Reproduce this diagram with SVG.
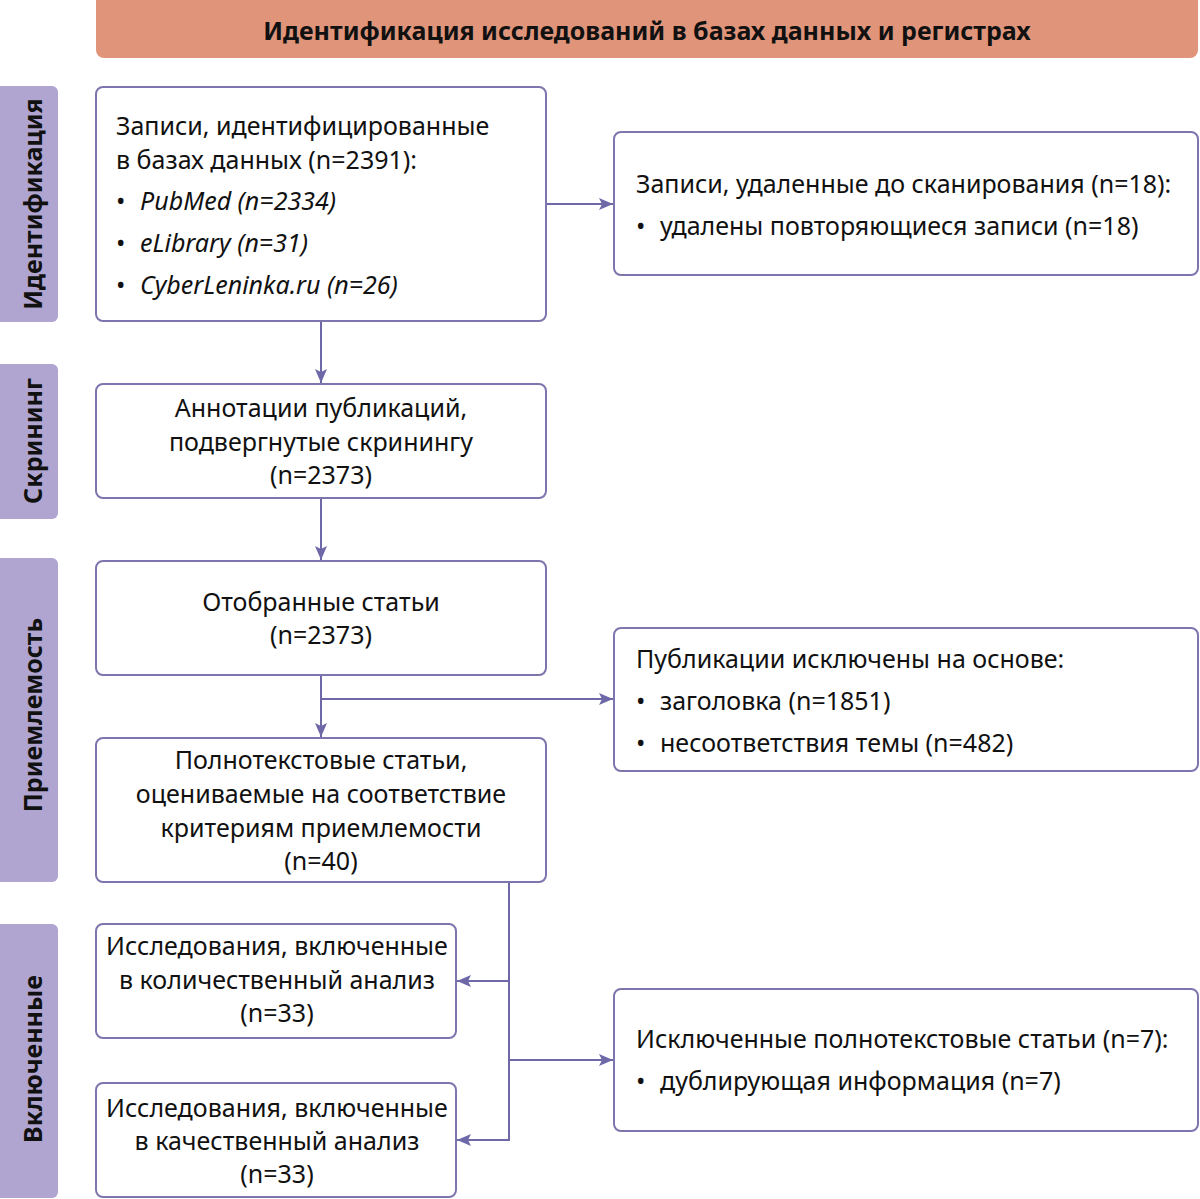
<svg xmlns="http://www.w3.org/2000/svg" width="1200" height="1199" viewBox="0 0 1200 1199">
<defs>
<style>
.box{fill:#fff;stroke:#7D76AE;stroke-width:2}
.side{fill:#B0A5D0}
.t{font-family:"Noto Sans","Open Sans",sans-serif;font-size:25px;fill:#111}
.c{text-anchor:middle}
.i{font-style:italic}
.b{font-family:"Noto Sans","Open Sans",sans-serif;font-size:25px;font-weight:bold;fill:#111;text-anchor:middle}
.ln{fill:none;stroke:#6E68A8;stroke-width:2}
</style>
<marker id="ar" viewBox="0 0 14 12" refX="14" refY="6" markerWidth="14" markerHeight="12" markerUnits="userSpaceOnUse" orient="auto">
<path d="M0,0 L14,6 L0,12 L3,6 Z" fill="#6E68A8"/>
</marker>
</defs>
<g id="banner">
<rect x="96" y="-10" width="1102" height="68" rx="8" fill="#E0957A"/>
<text class="b" x="647" y="40">Идентификация исследований в базах данных и регистрах</text>
</g>
<g id="side-identification">
<rect class="side" x="-10" y="86" width="68" height="236" rx="6"/>
<text class="b" transform="translate(42,204) rotate(-90)">Идентификация</text>
</g>
<g id="side-screening">
<rect class="side" x="-10" y="364" width="68" height="155" rx="6"/>
<text class="b" transform="translate(42,441) rotate(-90)">Скрининг</text>
</g>
<g id="side-eligibility">
<rect class="side" x="-10" y="558" width="68" height="324" rx="6"/>
<text class="b" transform="translate(42,715) rotate(-90)">Приемлемость</text>
</g>
<g id="side-included">
<rect class="side" x="-10" y="924" width="68" height="274" rx="6"/>
<text class="b" transform="translate(42,1059) rotate(-90)">Включенные</text>
</g>
<g id="connectors">
<line class="ln" x1="321" y1="321" x2="321" y2="383" marker-end="url(#ar)"/>
<line class="ln" x1="546" y1="204" x2="613" y2="204" marker-end="url(#ar)"/>
<line class="ln" x1="321" y1="498" x2="321" y2="560" marker-end="url(#ar)"/>
<line class="ln" x1="321" y1="675" x2="321" y2="737" marker-end="url(#ar)"/>
<line class="ln" x1="321" y1="699" x2="613" y2="699" marker-end="url(#ar)"/>
<polyline class="ln" points="509,882 509,1140 457,1140" marker-end="url(#ar)"/>
<line class="ln" x1="509" y1="981" x2="457" y2="981" marker-end="url(#ar)"/>
<line class="ln" x1="509" y1="1060" x2="613" y2="1060" marker-end="url(#ar)"/>
</g>
<g id="n-records">
<rect class="box" x="96" y="87" width="450" height="234" rx="7"/>
<text class="t" x="116" y="135">Записи, идентифицированные</text>
<text class="t" x="116" y="169">в базах данных (n=2391):</text>
<text class="t" x="116" y="210">•</text><text class="t i" x="140" y="210">PubMed (n=2334)</text>
<text class="t" x="116" y="252">•</text><text class="t i" x="140" y="252">eLibrary (n=31)</text>
<text class="t" x="116" y="294">•</text><text class="t i" x="140" y="294">CyberLeninka.ru (n=26)</text>
</g>
<g id="n-removed">
<rect class="box" x="614" y="132" width="584" height="143" rx="7"/>
<text class="t" x="636" y="193">Записи, удаленные до сканирования (n=18):</text>
<text class="t" x="636" y="235">•</text><text class="t" x="660" y="235">удалены повторяющиеся записи (n=18)</text>
</g>
<g id="n-screened">
<rect class="box" x="96" y="384" width="450" height="114" rx="7"/>
<text class="t c" x="321" y="417">Аннотации публикаций,</text>
<text class="t c" x="321" y="451">подвергнутые скринингу</text>
<text class="t c" x="321" y="484">(n=2373)</text>
</g>
<g id="n-selected">
<rect class="box" x="96" y="561" width="450" height="114" rx="7"/>
<text class="t c" x="321" y="611">Отобранные статьи</text>
<text class="t c" x="321" y="644">(n=2373)</text>
</g>
<g id="n-excluded-pubs">
<rect class="box" x="614" y="628" width="584" height="143" rx="7"/>
<text class="t" x="636" y="668">Публикации исключены на основе:</text>
<text class="t" x="636" y="710">•</text><text class="t" x="660" y="710">заголовка (n=1851)</text>
<text class="t" x="636" y="752">•</text><text class="t" x="660" y="752">несоответствия темы (n=482)</text>
</g>
<g id="n-fulltext">
<rect class="box" x="96" y="738" width="450" height="144" rx="7"/>
<text class="t c" x="321" y="769">Полнотекстовые статьи,</text>
<text class="t c" x="321" y="803">оцениваемые на соответствие</text>
<text class="t c" x="321" y="837">критериям приемлемости</text>
<text class="t c" x="321" y="870">(n=40)</text>
</g>
<g id="n-quant">
<rect class="box" x="96" y="924" width="360" height="114" rx="7"/>
<text class="t c" x="277" y="955">Исследования, включенные</text>
<text class="t c" x="277" y="989">в количественный анализ</text>
<text class="t c" x="277" y="1022">(n=33)</text>
</g>
<g id="n-qual">
<rect class="box" x="96" y="1083" width="360" height="114" rx="7"/>
<text class="t c" x="277" y="1117">Исследования, включенные</text>
<text class="t c" x="277" y="1150">в качественный анализ</text>
<text class="t c" x="277" y="1183">(n=33)</text>
</g>
<g id="n-excluded-full">
<rect class="box" x="614" y="989" width="584" height="142" rx="7"/>
<text class="t" x="636" y="1048">Исключенные полнотекстовые статьи (n=7):</text>
<text class="t" x="636" y="1090">•</text><text class="t" x="660" y="1090">дублирующая информация (n=7)</text>
</g>
</svg>
